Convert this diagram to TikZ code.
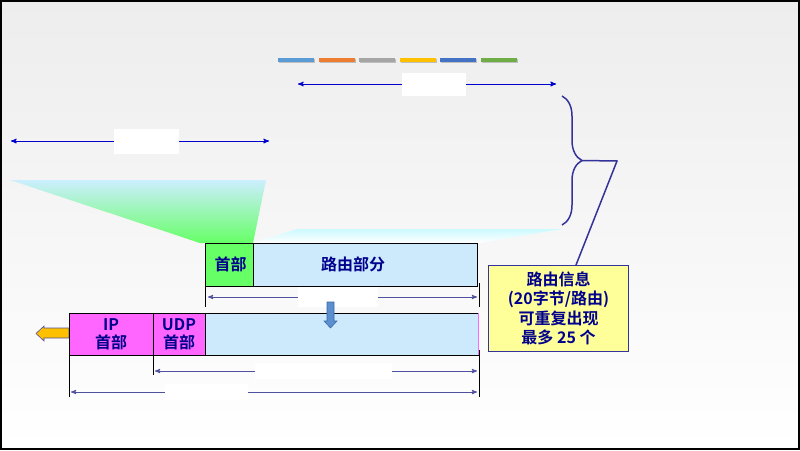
\documentclass[tikz,border=0pt]{standalone}
\usepackage{fontspec}
\setmainfont{Noto Sans CJK SC}[BoldFont={Noto Sans CJK SC Bold}]
\usepackage{tikz}
\usetikzlibrary{arrows,positioning,decorations.pathreplacing}
\definecolor{navy}{RGB}{0,0,140}
\definecolor{bgtop}{RGB}{237,237,237}
\definecolor{hdgreen}{RGB}{102,255,102}
\definecolor{paleblue}{RGB}{204,234,251}
\definecolor{skyfill}{RGB}{204,238,255}
\definecolor{cyanfill}{RGB}{204,250,255}
\definecolor{hdpink}{RGB}{255,102,255}
\definecolor{infoyellow}{RGB}{255,255,153}
\definecolor{braceblue}{RGB}{51,51,153}
\definecolor{dimblue}{RGB}{80,80,160}
\definecolor{topblue}{RGB}{0,0,204}
\definecolor{arrowblue}{RGB}{91,143,208}
\definecolor{arrowedge}{RGB}{58,106,168}
\definecolor{hdorange}{RGB}{255,192,0}
\definecolor{barA}{RGB}{91,155,213}
\definecolor{barB}{RGB}{237,125,49}
\definecolor{barC}{RGB}{165,165,165}
\definecolor{barD}{RGB}{255,192,0}
\definecolor{barE}{RGB}{68,114,196}
\definecolor{barF}{RGB}{112,173,71}

\begin{document}
\begin{tikzpicture}[x=1pt,y=-1pt,>=stealth',
		box node/.style={draw,line width=1pt,inner sep=0pt,outer sep=0pt,minimum height=43pt,
			text=navy,align=center,font=\bfseries\fontsize{16}{18}\selectfont},
		gap node/.style={fill=white,inner sep=0pt,outer sep=0pt,minimum height=22pt},
		top dim/.style={<->,draw=topblue,line width=1pt},
		dim line/.style={<->,draw=dimblue,line width=0.9pt},
		tick line/.style={line width=0.8pt}]
		\useasboundingbox (0,0) rectangle (800,450);
		\shade[top color=bgtop,bottom color=white] (0,0) rectangle (800,450);
		\foreach \c [count=\i from 0] in {barA,barB,barC,barD,barE,barF} {
			\fill[black!25] ({279+\i*40.6},59) rectangle ++(36,4);
			\fill[\c] ({278+\i*40.6},58) rectangle ++(36,4);
		}
		\coordinate (ta) at (298,84);
		\coordinate (tb) at (556,84);
		\draw[top dim] (ta) -- (tb);
		\node[gap node,minimum width=64pt,minimum height=23pt] (lenA) at (434,84) {};
		\coordinate (la) at (11,141);
		\coordinate (lb) at (269,141);
		\draw[top dim] (la) -- (lb);
		\node[gap node,minimum width=65pt,minimum height=25pt] (lenB) at (146.5,141) {};
		\shade[top color=skyfill,bottom color=hdgreen] (10,180) -- (266,180) -- (253,243) -- (200,243) -- cycle;
		\shade[top color=cyanfill,bottom color=white] (297,229) -- (562,229) -- (480,243) -- (253,243) -- cycle;
		\draw[braceblue,line width=1.5pt,decorate,decoration={brace,amplitude=20pt}] (562,96) -- (562,225);
		\node[box node,fill=hdgreen,minimum width=48pt,anchor=north west] (hd) at (205,243) {\hspace*{3pt}首部};
		\node[box node,fill=paleblue,minimum width=224pt,right=0pt of hd] (route) {路由部分\hspace*{24pt}};
		\node[draw=braceblue,fill=infoyellow,line width=1pt,minimum width=140pt,minimum height=86pt,
			anchor=north west,text=navy,align=center,font=\bfseries\fontsize{16}{19.5}\selectfont] (info) at (488,265)
			{路由信息\\(20字节/路由)\\可重复出现\\最多 25 个};
		\coordinate (tip) at (582,160.5);
		\coordinate (kink) at (617,161);
		\draw[braceblue,line width=1.5pt] (tip) -- (kink) -- ([xshift=88pt]info.north west);
		\coordinate (ra) at (205,307);
		\coordinate (rb) at (479,283);
		\coordinate (rc) at (479,307);
		\draw[tick line] (hd.south west) -- (ra);
		\draw[tick line] (rb) -- (rc);
		\coordinate (da) at (208,297);
		\coordinate (db) at (477,297);
		\draw[dim line] (da) -- (db);
		\node[gap node,minimum width=80pt,minimum height=20pt] (lenC) at (338,297) {};
		\draw[fill=hdorange,draw=dimblue,line width=0.6pt] (69,328) -- (44,328) -- (44,326) -- (36,333.5)
			-- (44,341) -- (44,338) -- (69,338) -- cycle;
		\node[box node,fill=hdpink,minimum width=84pt,minimum height=42pt,anchor=north west] (iph) at (69,313) {IP\\首部};
		\node[box node,fill=hdpink,minimum width=52pt,minimum height=42pt,right=0pt of iph] (udph) {UDP\\首部};
		\node[box node,fill=paleblue,minimum width=273pt,minimum height=42pt,right=0pt of udph] (data) {};
		\draw[hdpink,line width=1pt] (data.north east) -- (data.south east);
		\draw[fill=arrowblue,draw=arrowedge,line width=0.6pt] (327,302) -- (334,302) -- (334,321) -- (337,321)
			-- (330.5,328) -- (324,321) -- (327,321) -- cycle;
		\coordinate (ua) at (153,375);
		\coordinate (ub) at (69,397);
		\coordinate (uc) at (479,350);
		\coordinate (ud) at (479,397);
		\draw[tick line] (udph.south west) -- (ua);
		\draw[tick line] (iph.south west) -- (ub);
		\draw[tick line] (uc) -- (ud);
		\coordinate (ea) at (155,371);
		\coordinate (eb) at (477,371);
		\draw[dim line] (ea) -- (eb);
		\node[gap node,minimum width=137pt,minimum height=16pt] (lenD) at (323.5,371) {};
		\coordinate (fa) at (71,392);
		\coordinate (fb) at (477,392);
		\draw[dim line] (fa) -- (fb);
		\node[gap node,minimum width=83pt,minimum height=16pt] (lenE) at (206.5,392) {};
		\draw[line width=2pt] (1,1) rectangle (799,449);
\end{tikzpicture}
\end{document}
